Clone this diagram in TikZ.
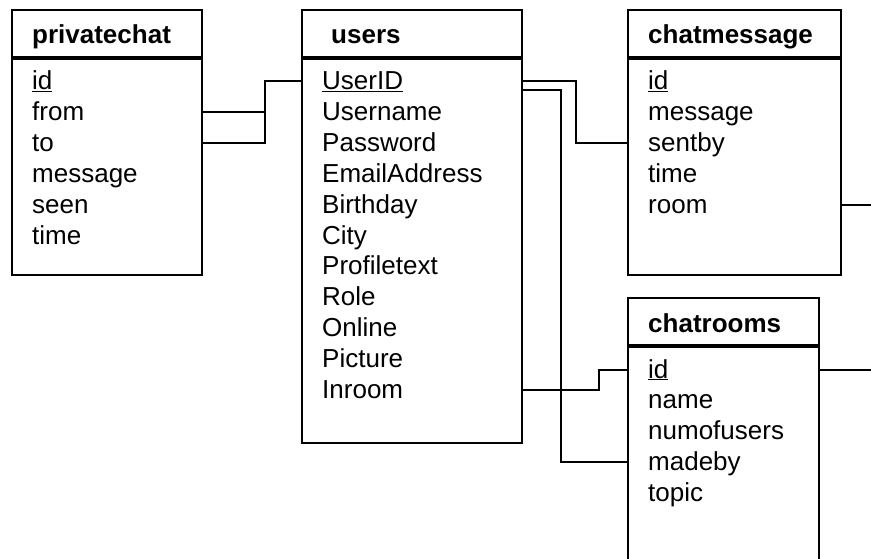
\documentclass[tikz,border=0pt]{standalone}
\usepackage{fontspec}
\setmainfont{Liberation Sans}
\usetikzlibrary{calc}

\tikzset{
  tbl/.style={draw, line width=2pt, anchor=north west, inner sep=0pt},
  head/.style={anchor=base west, inner sep=0pt, font=\fontsize{26}{31}\selectfont\bfseries},
  fld/.style={anchor=base west, inner sep=0pt, text height=22pt, text depth=5pt},
  link/.style={line width=2pt},
}

\begin{document}
\begin{tikzpicture}[x=1pt,y=-1pt,font=\fontsize{26}{31}\selectfont]

\clip (0,0) rectangle (871,559);
\coordinate (edge) at (871,0); %prawa krawedz

% privatechat
\node[tbl, minimum width=190pt, minimum height=47pt] (pch) at (11,9) {};
\node[tbl, minimum width=190pt, minimum height=216pt] (pc) at (pch.south west) {};
\node[head] (pct) at (32,44) {privatechat};
\node[fld] (pc-id) at (32,90) {\underline{id}};
\foreach \f [count=\i] in {from,to,message,seen,time}
  \node[fld] (pc-\f) at (32,90+30.8*\i) {\f};

% users
\node[tbl, minimum width=220pt, minimum height=47pt] (ush) at (301,9) {};
\node[tbl, minimum width=220pt, minimum height=384pt] (us) at (ush.south west) {};
\node[head] (ust) at (331,44) {users};
\node[fld] (us-UserID) at (322,90) {\underline{UserID}};
\foreach \f [count=\i] in {Username,Password,EmailAddress,Birthday,City,Profiletext,Role,Online,Picture,Inroom}
  \node[fld] (us-\f) at (322,90+30.8*\i) {\f};

% chatmessage
\node[tbl, minimum width=213pt, minimum height=47pt] (cmh) at (627,9) {};
\node[tbl, minimum width=213pt, minimum height=216pt] (cm) at (cmh.south west) {};
\node[head] (cmt) at (648,44) {chatmessage};
\node[fld] (cm-id) at (648,90) {\underline{id}};
\foreach \f [count=\i] in {message,sentby,time,room}
  \node[fld] (cm-\f) at (648,90+30.8*\i) {\f};

% chatrooms
\node[tbl, minimum width=191pt, minimum height=47pt] (crh) at (627,297) {};
\node[tbl, minimum width=191pt, minimum height=260pt] (cr) at (crh.south west) {};
\node[head] (crt) at (648,332) {chatrooms};
\node[fld] (cr-id) at (648,378) {\underline{id}};
\foreach \f [count=\i] in {name,numofusers,madeby,topic}
  \node[fld] (cr-\f) at (648,378+30.8*\i) {\f};

% polaczenia
\coordinate (usout) at ($(us-UserID -| us.east)+(0,9)$);
\draw[link] (pc-from -| pc.east) -- ++(62,0) |- (us-UserID -| us.west);
\draw[link] (pc-to -| pc.east) -- ++(62,0) |- (us-UserID -| us.west);
\draw[link] (us-UserID -| us.east) -- ++(53,0) |- (cm-sentby -| cm.west);
\draw[link] (usout) -- ++(38,0) |- (cr-madeby -| cr.west);
\draw[link] (us-Inroom -| us.east) -- ++(76,0) |- (cr-id -| cr.west);
\draw[link] (cm-room -| cm.east) -- (cm-room -| edge);
\draw[link] (cr-id -| cr.east) -- (cr-id -| edge);
\end{tikzpicture}
\end{document}
